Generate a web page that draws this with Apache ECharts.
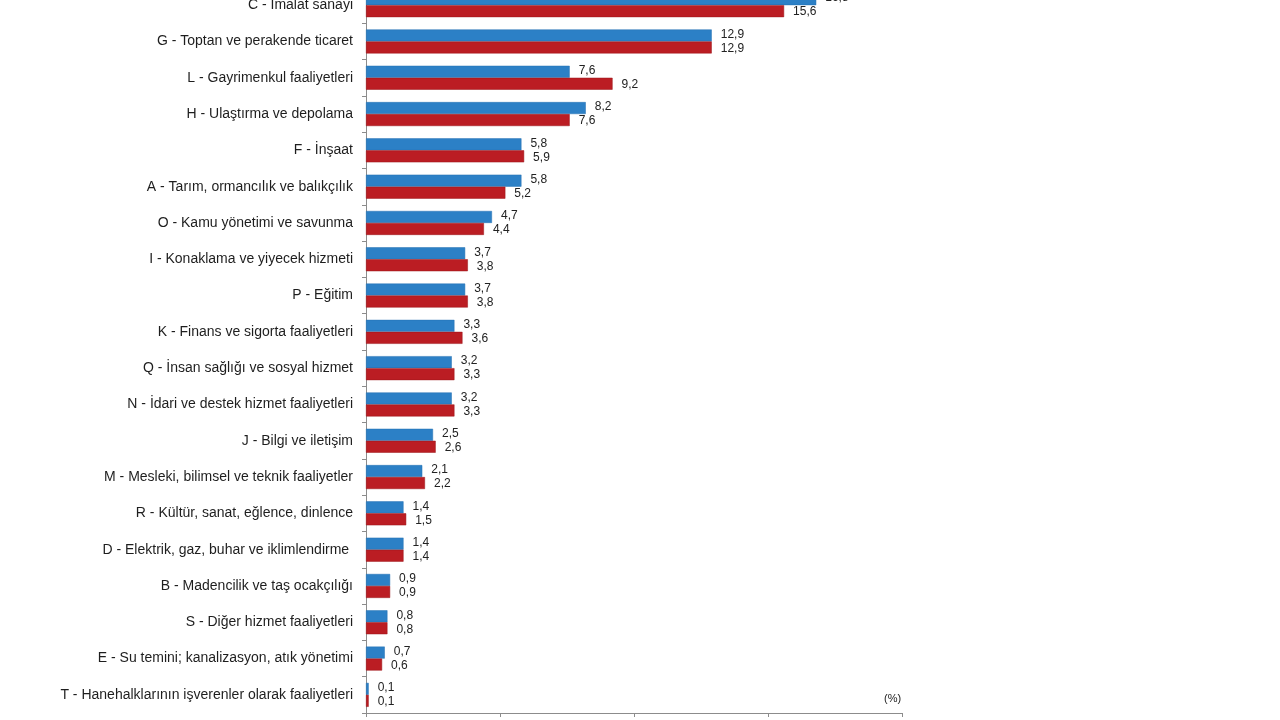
<!DOCTYPE html>
<html>
<head>
<meta charset="utf-8">
<title>Sektörel dağılım</title>
<script src="https://cdn.jsdelivr.net/npm/echarts@6/dist/echarts.min.js"></script>
<style>
  html, body { margin: 0; padding: 0; background: #fff; overflow: hidden; }
  /* the reference is cropped at the top, so the chart is shifted up a little */
  #chart { width: 1280px; height: 760px; margin-top: -13px; }
</style>
</head>
<body>
<div id="chart"></div>
<script>
// sectors, top to bottom
var categories = [
  'C - İmalat sanayi',
  'G - Toptan ve perakende ticaret',
  'L - Gayrimenkul faaliyetleri',
  'H - Ulaştırma ve depolama',
  'F - İnşaat',
  'A - Tarım, ormancılık ve balıkçılık',
  'O - Kamu yönetimi ve savunma',
  'I - Konaklama ve yiyecek hizmeti',
  'P - Eğitim',
  'K - Finans ve sigorta faaliyetleri',
  'Q - İnsan sağlığı ve sosyal hizmet',
  'N - İdari ve destek hizmet faaliyetleri',
  'J - Bilgi ve iletişim',
  'M - Mesleki, bilimsel ve teknik faaliyetler',
  'R - Kültür, sanat, eğlence, dinlence',
  'D - Elektrik, gaz, buhar ve iklimlendirme ',
  'B - Madencilik ve taş ocakçılığı',
  'S - Diğer hizmet faaliyetleri',
  'E - Su temini; kanalizasyon, atık yönetimi',
  'T - Hanehalklarının işverenler olarak faaliyetleri'
];

var blueVals = [16.8, 12.9, 7.6, 8.2, 5.8, 5.8, 4.7, 3.7, 3.7, 3.3, 3.2, 3.2, 2.5, 2.1, 1.4, 1.4, 0.9, 0.8, 0.7, 0.1];
var redVals  = [15.6, 12.9, 9.2, 7.6, 5.9, 5.2, 4.4, 3.8, 3.8, 3.6, 3.3, 3.3, 2.6, 2.2, 1.5, 1.4, 0.9, 0.8, 0.6, 0.1];

var xTicks = [0, 5, 10, 15, 20];

var fmt = function (p) { return p.value.toFixed(1).replace('.', ','); };

var myChart = echarts.init(document.getElementById('chart'));

myChart.setOption({
  animation: false,
  textStyle: { fontFamily: 'Liberation Sans, Arial, sans-serif' },
  grid: { left: 366, width: 536, top: 0, height: 726, containLabel: false, outerBoundsMode: 'none' },
  xAxis: {
    type: 'value',
    min: xTicks[0],
    max: xTicks[xTicks.length - 1],
    interval: 5,
    splitLine: { show: false },
    axisLine: { show: true, lineStyle: { color: '#8c8c8c', width: 1 } },
    axisTick: { show: true, length: 4, lineStyle: { color: '#8c8c8c' } },
    axisLabel: { color: '#222', fontSize: 12, margin: 8 }
  },
  yAxis: {
    type: 'category',
    data: categories,
    inverse: true,
    axisLine: { show: true, lineStyle: { color: '#8c8c8c', width: 1 } },
    axisTick: { show: true, length: 4, lineStyle: { color: '#8c8c8c' } },
    axisLabel: { color: '#1e1e1e', fontSize: 14, margin: 13 }
  },
  series: [
    {
      name: 'blue',
      type: 'bar',
      data: blueVals,
      barGap: '0%',
      barCategoryGap: '34%',
      itemStyle: { color: '#2c80c6', borderColor: '#2571b3', borderWidth: 0.5 },
      label: {
        show: true, position: 'right', distance: 9,
        color: '#222', fontSize: 12, offset: [0, -1],
        formatter: fmt
      }
    },
    {
      name: 'red',
      type: 'bar',
      data: redVals,
      itemStyle: { color: '#bb1d23', borderColor: '#9a1419', borderWidth: 0.5 },
      label: {
        show: true, position: 'right', distance: 9,
        color: '#222', fontSize: 12, offset: [0, 1],
        formatter: fmt
      }
    }
  ],
  graphic: [
    {
      type: 'text',
      left: 884, top: 706,
      style: { text: '(%)', fill: '#222', fontSize: 11, fontFamily: 'Liberation Sans, Arial, sans-serif' }
    }
  ]
});
</script>
</body>
</html>
